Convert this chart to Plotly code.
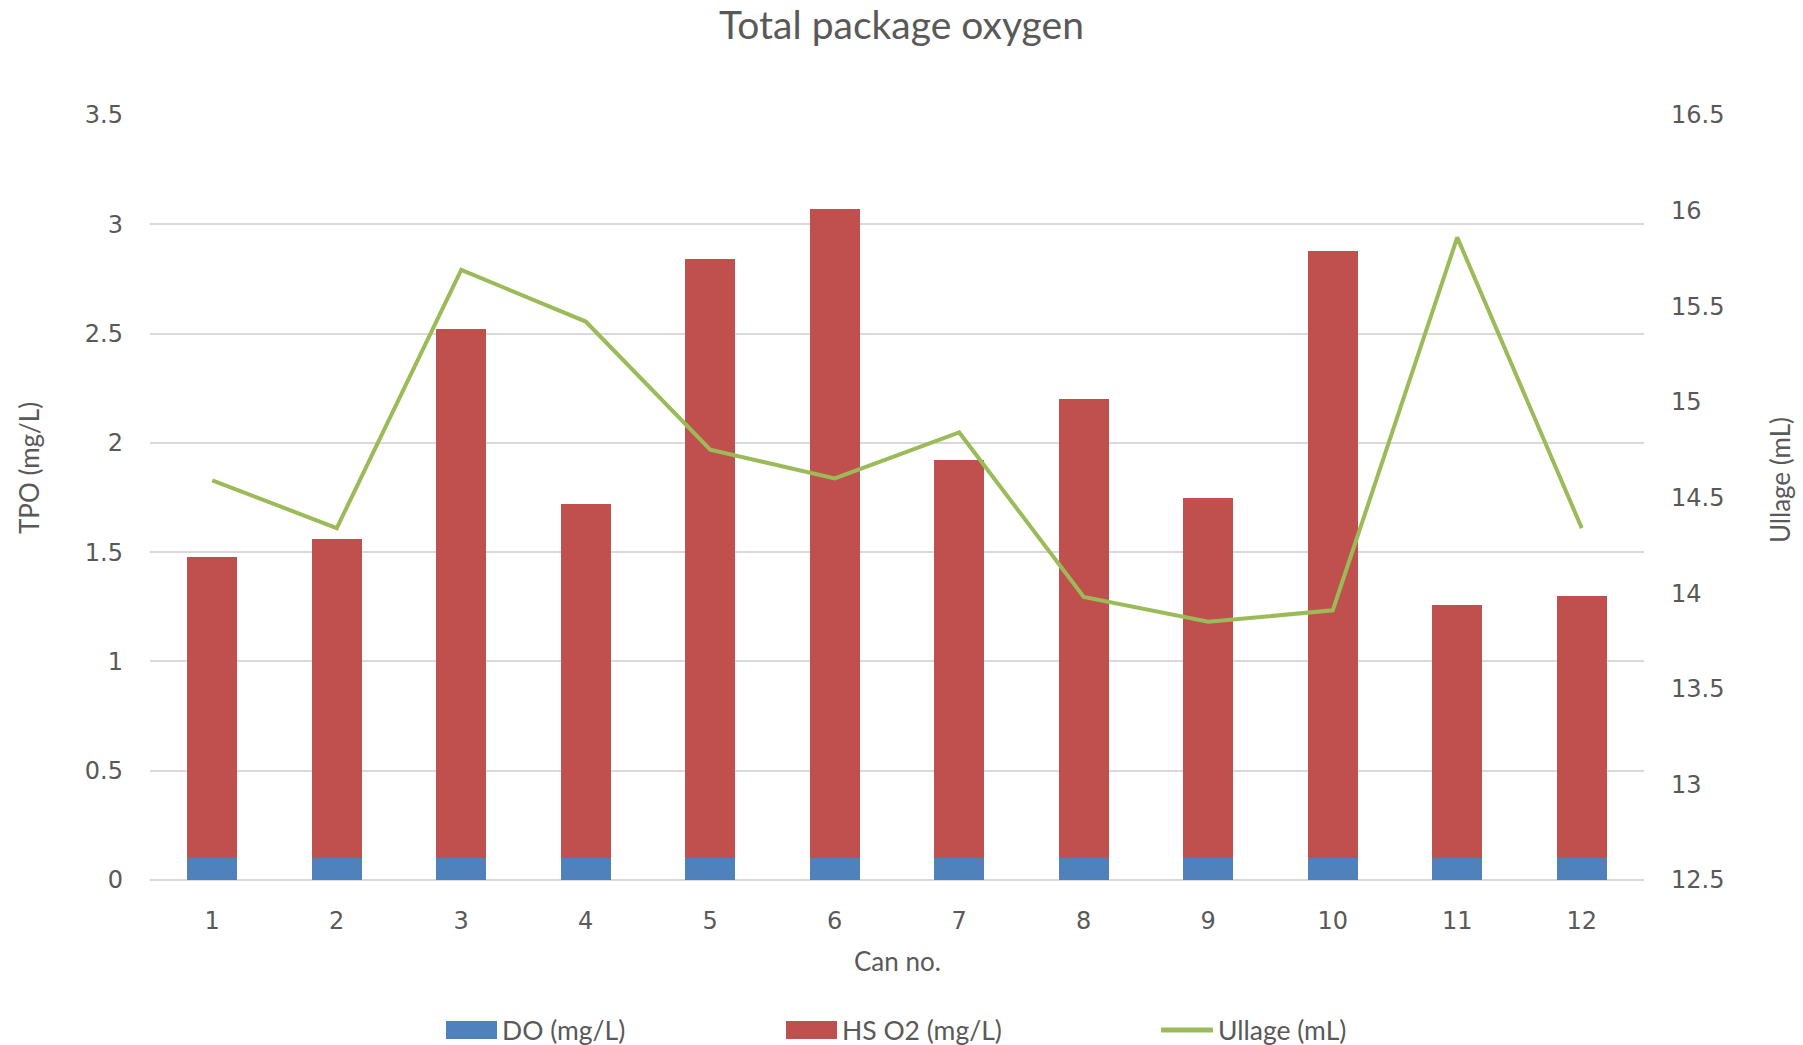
import plotly.graph_objects as go

# Can numbers and measured values
cans = [1, 2, 3, 4, 5, 6, 7, 8, 9, 10, 11, 12]
do_mg_l = [0.10, 0.10, 0.10, 0.10, 0.10, 0.10, 0.10, 0.10, 0.10, 0.10, 0.10, 0.10]
hs_o2_mg_l = [1.38, 1.46, 2.42, 1.62, 2.74, 2.97, 1.82, 2.10, 1.65, 2.78, 1.16, 1.20]
ullage_ml = [14.59, 14.34, 15.69, 15.42, 14.75, 14.60, 14.84, 13.98, 13.85, 13.91, 15.86, 14.34]

left_ticks = [0, 0.5, 1, 1.5, 2, 2.5, 3, 3.5]
left_labels = ["0", "0.5", "1", "1.5", "2", "2.5", "3", "3.5"]
right_ticks = [12.5, 13, 13.5, 14, 14.5, 15, 15.5, 16, 16.5]
right_labels = ["12.5", "13", "13.5", "14", "14.5", "15", "15.5", "16", "16.5"]

BLUE = "#4F81BD"
RED = "#C0504D"
GREEN = "#9BBB59"
TEXT = "#595959"
GRID = "#D9D9D9"
FONT = "Lato"
TICK_FONT = "DejaVu Sans"

W, H = 1803, 1045
L, R, T, B = 150, 159, 115, 165
plot_w = W - L - R
plot_h = H - T - B


def px_x(px):
    return (px - L) / plot_w


def px_y(py):
    return (H - B - py) / plot_h


fig = go.Figure()

fig.add_trace(go.Bar(
    x=cans, y=do_mg_l, name="DO (mg/L)", marker_color=BLUE,
    marker_line_width=0, width=0.4, showlegend=False,
))
fig.add_trace(go.Bar(
    x=cans, y=hs_o2_mg_l, name="HS O2 (mg/L)", marker_color=RED,
    marker_line_width=0, width=0.4, showlegend=False,
))
fig.add_trace(go.Scatter(
    x=cans, y=ullage_ml, name="Ullage (mL)", mode="lines",
    line=dict(color=GREEN, width=4), yaxis="y2", showlegend=False,
))

tick_font = dict(family=TICK_FONT, size=24, color=TEXT)

fig.update_layout(
    width=W, height=H,
    margin=dict(l=L, r=R, t=T, b=B),
    paper_bgcolor="white", plot_bgcolor="white",
    barmode="stack",
    font=dict(family=FONT, color=TEXT, size=23),
    title=dict(
        text="Total package oxygen", x=0.5, xref="container", xanchor="center",
        y=1 - 25 / H, yref="container", yanchor="middle",
        font=dict(family=FONT, size=39, color=TEXT),
    ),
    xaxis=dict(
        range=[0.5, 12.5], tickmode="array", tickvals=cans,
        ticktext=[str(c) for c in cans], showgrid=False, zeroline=False,
        showline=False, ticks="", ticklabelstandoff=24, tickfont=tick_font,
    ),
    yaxis=dict(
        range=[0, 3.5], tickmode="array", tickvals=left_ticks, ticktext=left_labels,
        showgrid=True, gridcolor=GRID, gridwidth=1.5, zeroline=True,
        zerolinecolor=GRID, zerolinewidth=1.5, showline=False, ticks="",
        ticklabelstandoff=26, tickfont=tick_font,
    ),
    yaxis2=dict(
        range=[12.5, 16.5], tickmode="array", tickvals=right_ticks,
        ticktext=right_labels, overlaying="y", side="right", showgrid=False,
        zeroline=False, showline=False, ticks="", ticklabelstandoff=26,
        tickfont=tick_font,
    ),
)

# Axis titles
title_font = dict(size=26, color=TEXT)
fig.add_annotation(text="TPO (mg/L)", x=px_x(29), y=px_y(468), xref="paper", yref="paper",
                   textangle=-90, showarrow=False, font=title_font,
                   xanchor="center", yanchor="middle")
fig.add_annotation(text="Ullage (mL)", x=px_x(1780), y=px_y(480), xref="paper", yref="paper",
                   textangle=-90, showarrow=False, font=title_font,
                   xanchor="center", yanchor="middle")
fig.add_annotation(text="Can no.", x=px_x(897), y=px_y(961), xref="paper", yref="paper",
                   showarrow=False, font=title_font,
                   xanchor="center", yanchor="middle")

# Legend along the bottom
legend_y = 1030
fig.add_shape(type="rect", xref="paper", yref="paper",
              x0=px_x(446), x1=px_x(497), y0=px_y(legend_y - 9), y1=px_y(legend_y + 9),
              fillcolor=BLUE, line_width=0)
fig.add_shape(type="rect", xref="paper", yref="paper",
              x0=px_x(786), x1=px_x(837), y0=px_y(legend_y - 9), y1=px_y(legend_y + 9),
              fillcolor=RED, line_width=0)
fig.add_shape(type="line", xref="paper", yref="paper",
              x0=px_x(1161), x1=px_x(1213), y0=px_y(legend_y), y1=px_y(legend_y),
              line=dict(color=GREEN, width=5))
for label, xpx in [("DO (mg/L)", 500), ("HS O2 (mg/L)", 840), ("Ullage (mL)", 1216)]:
    fig.add_annotation(text=label, x=px_x(xpx), y=px_y(legend_y), xref="paper", yref="paper",
                       showarrow=False, font=dict(size=26.5, color=TEXT),
                       xanchor="left", yanchor="middle")

fig.write_html("out.html")
